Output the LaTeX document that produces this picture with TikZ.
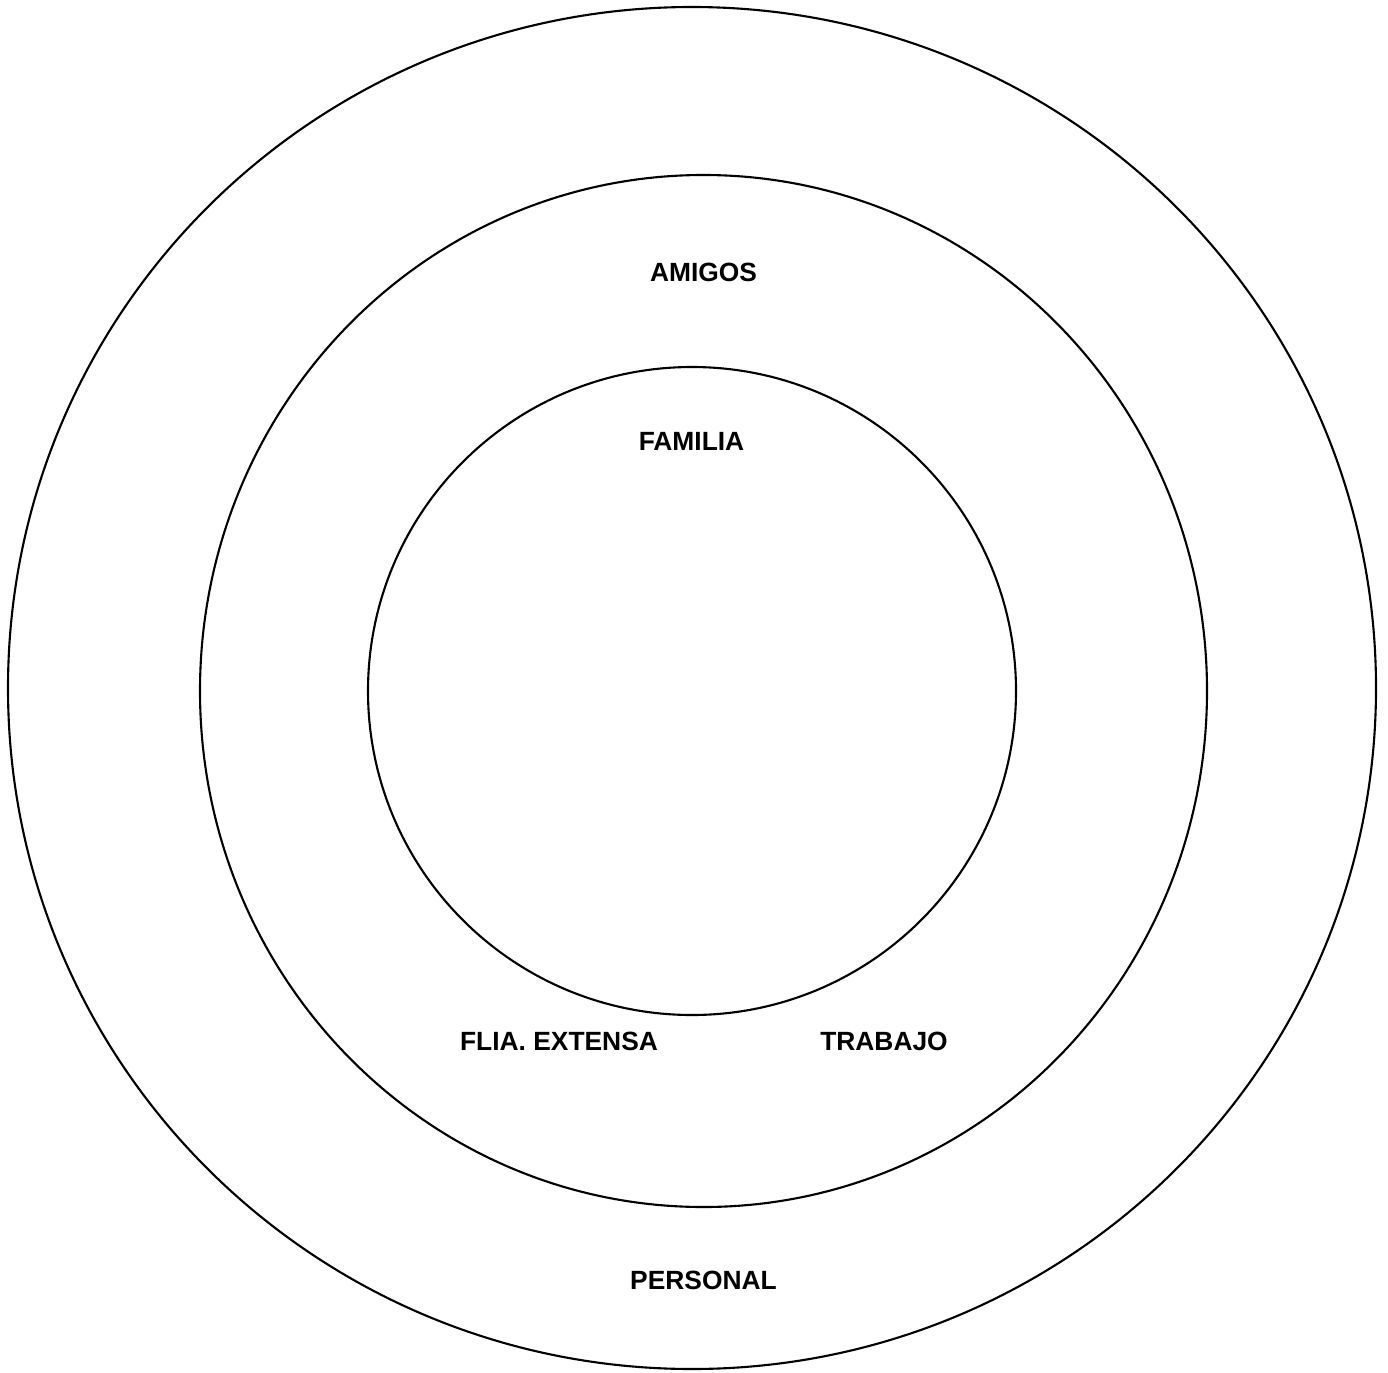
\documentclass[tikz,border=0pt]{standalone}
\usepackage{fontspec}
\setmainfont{Liberation Sans}
\usepackage{xcolor}
\usepackage{tikz}
\usetikzlibrary{positioning}
\definecolor{ringBlack}{RGB}{0,0,0}
\tikzset{
  ring/.style={draw=ringBlack, line width=0.6pt},
  zonelabel/.style={font=\bfseries\fontsize{7.5}{9}\selectfont, text=ringBlack, inner sep=0pt}
}

\begin{document}
\begin{tikzpicture}[x=0.01cm,y=-0.01cm]
\useasboundingbox (0,0) rectangle (1388,1373);
\draw[ring] (692,688) ellipse [x radius=684, y radius=681];
\draw[ring] (703.5,691) ellipse [x radius=503.5, y radius=516];
\draw[ring] (692,691) circle [radius=324];
\node[zonelabel] (amigos) at (703.5,272) {AMIGOS};
\node[zonelabel] (familia) at (691.5,441) {FAMILIA};
\node[zonelabel] (extensa) at (559,1041) {FLIA. EXTENSA};
\node[zonelabel] (trabajo) at (884,1041) {TRABAJO};
\node[zonelabel] (personal) at (703.5,1280) {PERSONAL};
\end{tikzpicture}
\end{document}
